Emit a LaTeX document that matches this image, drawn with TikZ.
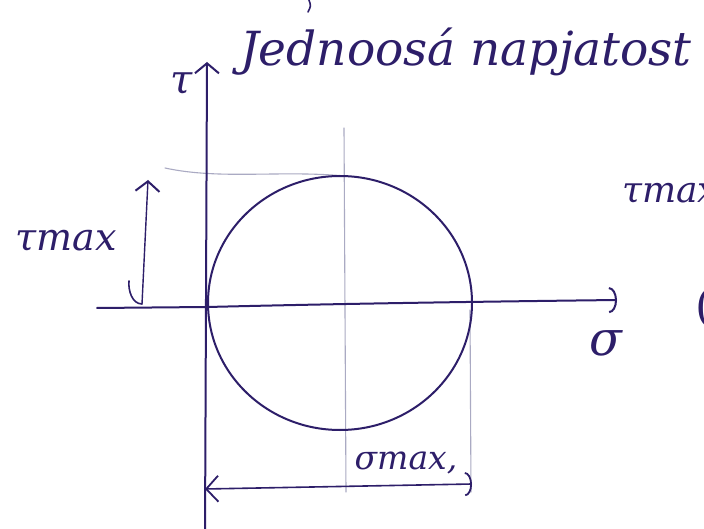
\documentclass[tikz,border=0pt]{standalone}
\usepackage{fontspec}
\setmainfont{DejaVu Serif}
\usetikzlibrary{arrows.meta}
\definecolor{ink}{RGB}{45,30,105}
\definecolor{pencil}{RGB}{170,170,195}
\begin{document}
\begin{tikzpicture}[x=1pt,y=-1pt,
  inkline/.style={draw=ink, line width=2pt, line cap=round, line join=round},
  thinline/.style={draw=pencil, line width=1.1pt, line cap=round},
  lbl/.style={text=ink, inner sep=0pt, font=\itshape},
  barbtip/.style={-{Straight Barb[length=10pt,width=24pt,line width=2pt]}},
  arctip/.style={-{Arc Barb[length=8pt,width=26pt,line width=2pt]}}]
\useasboundingbox (0,0) rectangle (704,529);
\clip (0,0) rectangle (704,529);
\fill[white] (0,0) rectangle (704,529);

% labels
\node[lbl, font=\itshape\fontsize{47}{52}\selectfont] (title) at (466,52) {Jednoosá napjatost};
\node[lbl, font=\itshape\fontsize{40}{44}\selectfont] (tau) at (182,84) {τ};
\node[lbl, font=\itshape\fontsize{38}{42}\selectfont] (tmaxL) at (66,241) {τmax};
\node[lbl, font=\itshape\fontsize{36}{40}\selectfont, anchor=west] (tmaxR) at (622,194) {τmax};
\node[lbl, font=\fontsize{44}{48}\selectfont, anchor=west] (paren) at (695,308) {(};
\node[lbl, font=\itshape\fontsize{48}{52}\selectfont] (sigma) at (606,343) {σ};
\node[lbl, font=\itshape\fontsize{33}{36}\selectfont] (smax) at (406,463) {σmax,};

% stray stroke at the top edge
\draw[inkline, line width=1.6pt] (309,0) .. controls (311,6) .. (308,12);

% coordinates
\coordinate (ytop) at (207,62);
\coordinate (ybot) at (205,535);
\coordinate (xleft) at (97,308);
\coordinate (xright) at (617,300);
\coordinate (C) at (340,303);
\coordinate (ctop) at (345,176);
\coordinate (thinTop) at (344,128);
\coordinate (thinBot) at (346,492);
\coordinate (rTop) at (470,310);
\coordinate (rBot) at (471,492);
\coordinate (hl) at (165,168);
\coordinate (aL) at (205,489);
\coordinate (aR) at (472,484);
\coordinate (tL1) at (142,304);
\coordinate (tL2) at (148,180);

% pencil construction lines
\draw[thinline] (thinTop) -- (thinBot);
\draw[thinline] (rTop) -- (rBot);
\draw[thinline] (hl) .. controls (220,180) and (280,170) .. (ctop);

% axes
\draw[inkline, barbtip] (ybot) -- (ytop);
\draw[inkline, arctip] (xleft) -- (207,307) .. controls (330,304) and (450,302) .. (xright);

% Mohr circle
\draw[inkline] (C) ellipse [x radius=132, y radius=127];

% tau max dimension
\draw[inkline, line width=1.4pt, barbtip] (tL1) -- (tL2);
\draw[inkline, line width=1.6pt] (tL1) .. controls (132,304) and (128,290) .. (129,281);

% sigma max dimension
\draw[inkline, line width=1.6pt, {Straight Barb[length=12pt,width=26pt,line width=1.8pt]}-{Arc Barb[length=7pt,width=24pt,line width=1.8pt]}] (aL) -- (aR);
\end{tikzpicture}
\end{document}
